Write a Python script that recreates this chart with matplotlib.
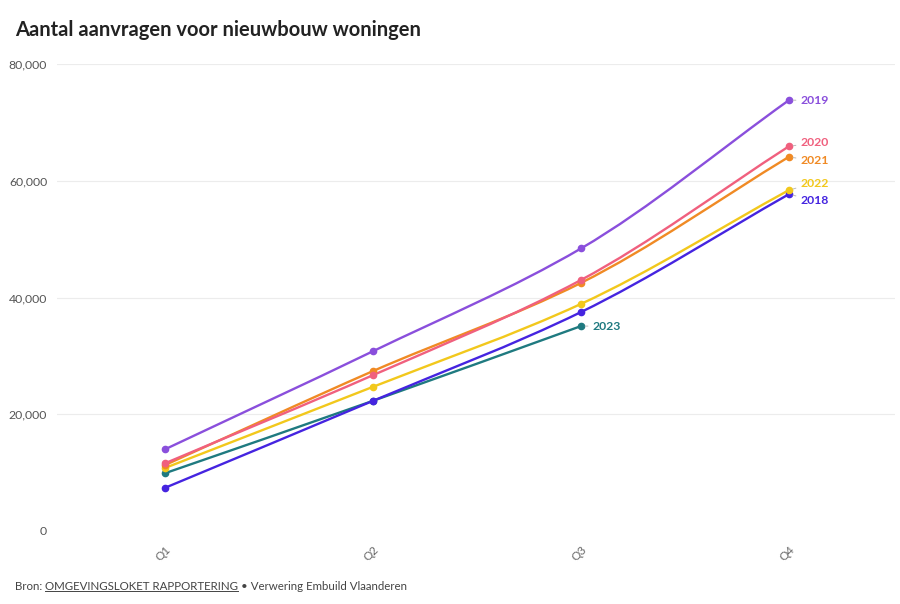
import matplotlib
matplotlib.use("Agg")
import matplotlib.pyplot as plt
from matplotlib.path import Path
from matplotlib.patches import PathPatch
import numpy as np

plt.rcParams['font.family'] = ['Lato', 'DejaVu Sans']

quarters = ["Q1", "Q2", "Q3", "Q4"]
years = ["2019", "2020", "2021", "2022", "2018", "2023"]
v2019 = [14000, 30800, 48400, 73800]
v2020 = [11600, 26700, 43000, 65900]
v2021 = [11300, 27400, 42500, 64100]
v2022 = [10800, 24700, 38900, 58400]
v2018 = [7400, 22300, 37500, 57700]
v2023 = [9900, 22300, 35100]
series = [v2019, v2020, v2021, v2022, v2018, v2023]
colors = ["#8a4fdc", "#f0607e", "#f08a24", "#f2c81c", "#4524e0", "#1f7a80"]
yticks = [0, 20000, 40000, 60000, 80000]
label_offsets = [0, 2.5, -3, 5, -4.5, 0]  # vertical dodge in points

fig = plt.figure(figsize=(9, 6.04), dpi=100)
ax = fig.add_axes([0.0633, 0.1209, 0.9311, 0.7731])


def monotone_path(x, y):
    x = np.asarray(x, float)
    y = np.asarray(y, float)
    n = len(x)
    h = np.diff(x)
    d = np.diff(y) / h
    m = np.zeros(n)
    m[0] = d[0]
    m[-1] = d[-1]
    for i in range(1, n - 1):
        if d[i - 1] * d[i] <= 0:
            m[i] = 0
        else:
            m[i] = 3 * (h[i - 1] + h[i]) / ((2 * h[i] + h[i - 1]) / d[i - 1] + (h[i] + 2 * h[i - 1]) / d[i])
    verts = [(x[0], y[0])]
    codes = [Path.MOVETO]
    for i in range(n - 1):
        dx = h[i] / 3
        verts += [(x[i] + dx, y[i] + m[i] * dx), (x[i + 1] - dx, y[i + 1] - m[i + 1] * dx), (x[i + 1], y[i + 1])]
        codes += [Path.CURVE4] * 3
    return Path(verts, codes)


order = [5, 4, 3, 2, 1, 0]
for i in order:
    vals = series[i]
    xs = np.arange(len(vals))
    patch = PathPatch(monotone_path(xs, vals), facecolor='none', edgecolor=colors[i], lw=1.7,
                      transform=ax.transData, zorder=3, capstyle='round', joinstyle='round')
    ax.add_patch(patch)
    ax.plot(xs, vals, 'o', color=colors[i], ms=4.5, zorder=4)
    ax.annotate(years[i], xy=(xs[-1], vals[-1]), xytext=(8, label_offsets[i]), textcoords='offset points',
                ha='left', va='center', color=colors[i], fontsize=8.8, fontweight='bold', zorder=5,
                arrowprops=dict(arrowstyle='-', color='#bbbbbb', lw=0.7, shrinkA=1, shrinkB=3))

ax.set_xlim(-0.52, 3.51)
ax.set_ylim(0, 80000)
ax.set_xticks(range(4))
ax.set_xticklabels(quarters, rotation=45, ha='right', rotation_mode='anchor', color='#666666', fontsize=8.5)
ax.set_yticks(yticks)
ax.set_yticklabels([f"{v:,}" for v in yticks], color='#555555', fontsize=8.8)
ax.tick_params(axis='both', length=0, pad=9)
ax.tick_params(axis='y', pad=7)
for v in yticks[1:]:
    ax.axhline(v, color='#ececec', lw=0.8, zorder=1)
for s in ax.spines.values():
    s.set_visible(False)

fig.text(15 / 900, 1 - 30 / 604, "Aantal aanvragen voor nieuwbouw woningen", fontsize=14.5,
         fontweight='bold', color='#222222', ha='left', va='center')

fy = 1 - 586 / 604
fig.canvas.draw()
r = fig.canvas.get_renderer()
t1 = fig.text(15 / 900, fy, "Bron: ", fontsize=8.3, color='#444444', ha='left', va='center')
bb1 = t1.get_window_extent(r)
t2 = fig.text(bb1.x1 / 900, fy, "OMGEVINGSLOKET RAPPORTERING", fontsize=8.3, color='#444444', ha='left', va='center')
bb2 = t2.get_window_extent(r)
fig.add_artist(plt.Line2D([bb2.x0 / 900, bb2.x1 / 900], [(bb2.y0 + 1) / 604] * 2, color='#444444', lw=0.7,
                          transform=fig.transFigure))
fig.text(bb2.x1 / 900, fy, " • Verwering Embuild Vlaanderen", fontsize=8.3, color='#444444', ha='left', va='center')

fig.savefig("out.png", dpi=100, facecolor='white')
